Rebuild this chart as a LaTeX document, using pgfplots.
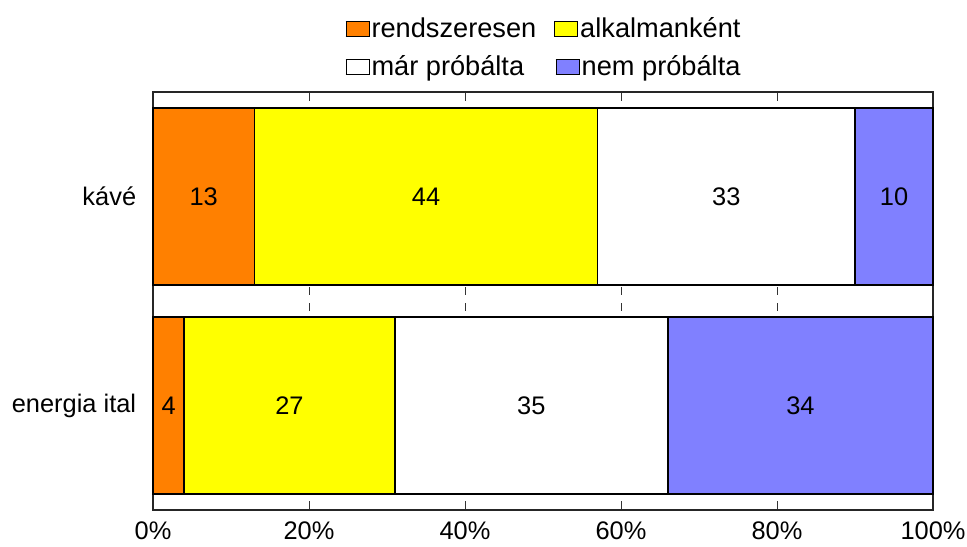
\documentclass[border=0pt]{standalone}
\usepackage{fontspec}
\setmainfont{Liberation Sans}
\usepackage{pgfplots}
\pgfplotsset{compat=1.18}
\definecolor{cOrange}{HTML}{FF8000}
\definecolor{cYellow}{HTML}{FFFF00}
\definecolor{cBlue}{HTML}{8080FF}
\newcommand\swatch[1]{\raisebox{0.8pt}{\setlength\fboxsep{0pt}\setlength\fboxrule{0.5pt}\fcolorbox{black}{#1}{\rule{0pt}{7pt}\rule{11pt}{0pt}}}\hspace{1pt}}
\pgfplotsset{
  base/.style={
    scale only axis, width=390pt, height=209pt,
    xmin=0, xmax=100, ymin=-0.5, ymax=1.5,
  },
}
\begin{document}
\fontsize{12.7}{15}\selectfont
\begin{tikzpicture}
% bars
\begin{axis}[
  base,
  xbar stacked, bar width=0.845,
  ytick={0,1}, yticklabels={energia ital, kávé},
  xtick={0,20,40,60,80,100},
  xticklabels={0\%,20\%,40\%,60\%,80\%,100\%},
  tick align=inside, xtick pos=both, major tick length=4.5pt,
  ytick style={draw=none},
  xtick style={black!80, line width=0.5pt},
  axis line style={black!85, line width=1pt},
  tick label style={font=\fontsize{12.7}{15}\selectfont},
  yticklabel style={xshift=-4pt},
  xticklabel style={yshift=-1.5pt},
  /pgf/number format/assume math mode=true,
  clip=false,
]
\addplot[fill=cOrange, draw=black, line width=0.75pt] coordinates {(4,0) (13,1)};
\addplot[fill=cYellow, draw=black, line width=0.75pt] coordinates {(27,0) (44,1)};
\addplot[fill=white, draw=black, line width=0.75pt] coordinates {(35,0) (33,1)};
\addplot[fill=cBlue, draw=black, line width=0.75pt] coordinates {(34,0) (10,1)};
\pgfplotsinvokeforeach{20,40,60,80}{
  \draw[black!80, line width=0.5pt] (axis cs:#1,0.453) -- (axis cs:#1,0.492)
    (axis cs:#1,0.53) -- (axis cs:#1,0.568);
}
\end{axis}
% value labels, at the middle of each segment
\begin{axis}[base, hide axis, clip=false]
\addplot[only marks, mark=*, mark size=0pt, mark options={draw=none, fill=none},
  point meta=explicit symbolic, nodes near coords,
  every node near coord/.append style={anchor=center, font=\fontsize{12.7}{15}\selectfont, text=black}]
  coordinates {
  (6.5,1) [13] (35,1) [44] (73.5,1) [33] (95,1) [10]
  (2,0) [4] (17.5,0) [27] (48.5,0) [35] (83,0) [34]
};
\end{axis}
\node[font=\fontsize{13.6}{16}\selectfont] at ([yshift=32pt]current axis.north) {\hbox to 197.5pt{\swatch{cOrange}rendszeresen\hfill\swatch{cYellow}alkalmanként}};
\node[font=\fontsize{13.6}{16}\selectfont] at ([yshift=12pt]current axis.north) {\hbox to 197.5pt{\swatch{white}már próbálta\hfill\swatch{cBlue}nem próbálta}};
\pgfresetboundingbox
\path ([xshift=-76.5pt,yshift=-18pt]current axis.south west) rectangle ([xshift=17pt,yshift=46pt]current axis.north east);
\end{tikzpicture}
\end{document}
